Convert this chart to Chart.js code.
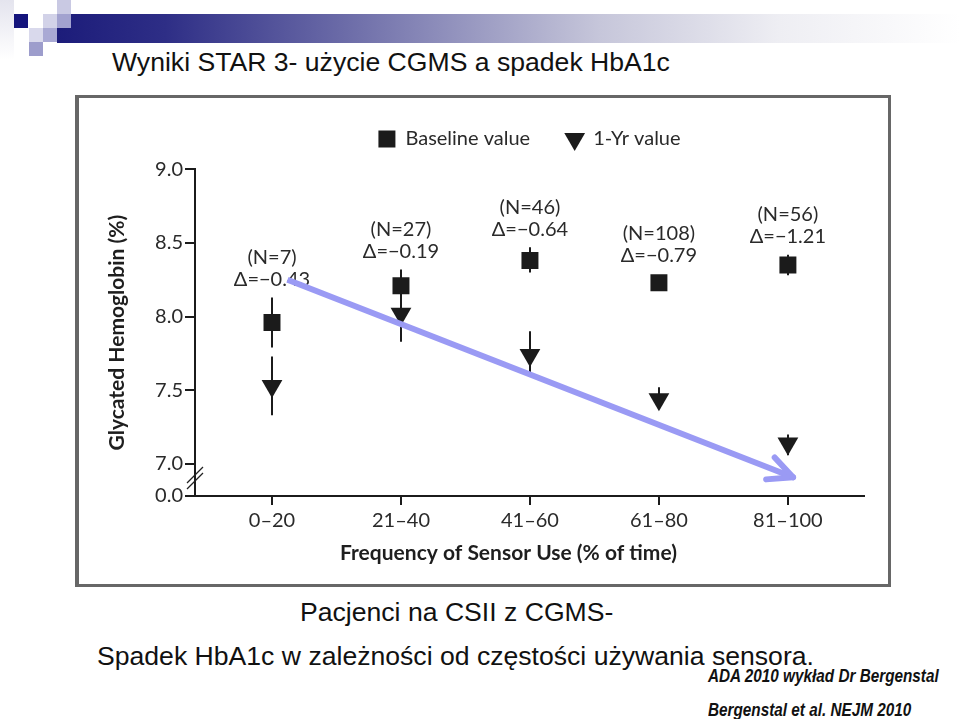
<!DOCTYPE html>
<html>
<head>
<meta charset="utf-8">
<script src="https://cdn.jsdelivr.net/npm/chart.js@4.4.1/dist/chart.umd.min.js"></script>
<style>
  html, body { margin: 0; padding: 0; background: #fff; }
  body { width: 960px; height: 719px; position: relative; overflow: hidden; font-family: "Liberation Sans", Arial, sans-serif; }
  .kw { position: absolute; width: 14px; height: 14px; }
  #pasek { position: absolute; left: 57px; top: 14px; width: 903px; height: 29px;
    background: linear-gradient(to right, #1c1c7a 0%, #2e2e86 12%, #6c6ca8 32%, #c6c6da 60%, #eeeef3 80%, #ffffff 100%); }
  .tekst { position: absolute; line-height: 1; color: #111; white-space: nowrap; }
  .zrodlo { font-weight: bold; font-style: italic; font-size: 18px; transform: scaleX(0.85); transform-origin: 0 0; }
  #ramka { position: absolute; left: 75px; top: 95px; width: 816px; height: 492px; box-sizing: border-box;
    border: 3px solid #676767; border-left-width: 4px; background: #fff; }
  #ramka canvas { display: block; }
</style>
</head>
<body>
<div class="kw" style="left:0;top:0;width:14px;height:60px;background:linear-gradient(#e4e4ee,#fff)"></div>
<div id="pasek"></div>
<div class="kw" style="left:57px;top:0;background:#c9c9e3"></div>
<div class="kw" style="left:14px;top:14px;background:#14147c"></div>
<div class="kw" style="left:43px;top:14px;background:#d2d2e8"></div>
<div class="kw" style="left:57px;top:14px;background:#a2a2cf"></div>
<div class="kw" style="left:29px;top:28px;background:#d9d9ec"></div>
<div class="kw" style="left:43px;top:28px;background:#a9a9d4"></div>
<div class="kw" style="left:29px;top:42px;background:#9d9dcc"></div>

<div class="tekst" style="left:112px;top:49px;font-size:26.6px">Wyniki STAR 3- użycie CGMS a spadek HbA1c</div>

<div id="ramka"><canvas id="wykres" width="809" height="486"></canvas></div>

<div class="tekst" style="left:300px;top:599px;font-size:26.6px">Pacjenci na CSII z CGMS-</div>
<div class="tekst" style="left:97px;top:643px;font-size:26.6px">Spadek HbA1c w zależności od częstości używania sensora.</div>
<div class="tekst zrodlo" style="left:708px;top:667px">ADA 2010 wykład Dr Bergenstal</div>
<div class="tekst zrodlo" style="left:708px;top:701px">Bergenstal et al. NEJM 2010</div>

<script>
const kategorie = ['0–20', '21–40', '41–60', '61–80', '81–100'];
const wartoscBazowa = [7.96, 8.21, 8.38, 8.23, 8.35];
const wartoscRok = [7.53, 8.02, 7.74, 7.44, 7.14];
// wąsy (przedziały) - null gdy niewidoczne
const bazowaGora = [8.13, 8.32, 8.47, null, 8.42];
const bazowaDol = [7.79, 8.10, 8.30, null, 8.28];
const rokGora = [7.73, 8.14, 7.90, 7.52, 7.20];
const rokDol = [7.33, 7.83, 7.62, 7.38, 7.06];
const liczebnosc = ['(N=7)', '(N=27)', '(N=46)', '(N=108)', '(N=56)'];
const delty = ['Δ=−0.43', 'Δ=−0.19', 'Δ=−0.64', 'Δ=−0.79', 'Δ=−1.21'];
const ticksY = [6.783, 7.0, 7.5, 8.0, 8.5, 9.0];
const etykietyY = ['0.0', '7.0', '7.5', '8.0', '8.5', '9.0'];
const strzalka = [{x: 0.12, y: 8.25}, {x: 4.04, y: 6.91}];

const czcionka = 'Lato, "DejaVu Sans", sans-serif';
const czarny = '#1b1b1b';

const punkty = arr => arr.map((v, i) => ({x: i, y: v}));

// wąsy, napisy N/delta i przerwanie osi
const dodatki = {
    id: 'dodatki',
    beforeDatasetsDraw(chart) {
        const {ctx, scales: {x, y}} = chart;
        ctx.save();
        ctx.strokeStyle = czarny;
        ctx.lineWidth = 2;
        const wasy = [[bazowaDol, bazowaGora], [rokDol, rokGora]];
        wasy.forEach(([dol, gora]) => {
            dol.forEach((d, i) => {
                if (d === null) return;
                const px = Math.round(x.getPixelForValue(i));
                ctx.beginPath();
                ctx.moveTo(px, y.getPixelForValue(d));
                ctx.lineTo(px, y.getPixelForValue(gora[i]));
                ctx.stroke();
            });
        });

        ctx.fillStyle = '#2a2a2a';
        ctx.font = '20px ' + czcionka;
        ctx.textAlign = 'center';
        ctx.textBaseline = 'middle';
        kategorie.forEach((k, i) => {
            const px = x.getPixelForValue(i);
            let gora = y.getPixelForValue(wartoscBazowa[i]) - 9;
            if (bazowaGora[i] !== null) gora = Math.min(gora, y.getPixelForValue(bazowaGora[i]));
            ctx.fillText(delty[i], px, gora - 18);
            ctx.fillText(liczebnosc[i], px, gora - 40);
        });

        // przerwanie osi Y
        const ax = chart.chartArea.left;
        const sr = (y.getPixelForValue(ticksY[0]) + y.getPixelForValue(ticksY[1])) / 2 - 2;
        ctx.lineWidth = 1.3;
        ctx.strokeStyle = '#222';
        [-3, 3].forEach(d => {
            ctx.beginPath();
            ctx.moveTo(ax - 8, sr + d + 8);
            ctx.lineTo(ax + 8, sr + d - 8);
            ctx.stroke();
        });
        ctx.restore();
    },
    afterDatasetsDraw(chart) {
        // grot strzałki
        const meta = chart.getDatasetMeta(2);
        const a = meta.data[0], b = meta.data[1];
        const kat = Math.atan2(a.y - b.y, a.x - b.x);
        const ctx = chart.ctx;
        ctx.save();
        ctx.strokeStyle = '#9a9af4';
        ctx.lineWidth = 6;
        ctx.lineCap = 'round';
        [-0.45, 0.45].forEach(d => {
            ctx.beginPath();
            ctx.moveTo(b.x, b.y);
            ctx.lineTo(b.x + 27 * Math.cos(kat + d), b.y + 27 * Math.sin(kat + d));
            ctx.stroke();
        });
        ctx.restore();
    }
};

new Chart(document.getElementById('wykres'), {
    type: 'scatter',
    data: {
        datasets: [
            {
                label: 'Baseline value',
                data: punkty(wartoscBazowa),
                pointStyle: 'rect',
                pointRadius: 12,
                pointHoverRadius: 12,
                backgroundColor: czarny,
                borderColor: czarny,
                borderWidth: 0
            },
            {
                label: '1-Yr value',
                data: punkty(wartoscRok),
                pointStyle: 'triangle',
                pointRotation: 180,
                pointRadius: 12,
                pointHoverRadius: 12,
                backgroundColor: czarny,
                borderColor: czarny,
                borderWidth: 0
            },
            {
                type: 'line',
                label: 'trend',
                data: strzalka,
                borderColor: '#9a9af4',
                borderWidth: 6,
                pointRadius: 0,
                showLine: true,
                order: -1
            }
        ]
    },
    options: {
        responsive: false,
        animation: false,
        events: [],
        layout: { padding: { top: -5, left: 0, right: 24, bottom: 0 } },
        plugins: {
            tooltip: { enabled: false },
            legend: {
                position: 'top',
                fullSize: false,
                labels: {
                    usePointStyle: true,
                    boxWidth: 17,
                    boxHeight: 17,
                    padding: 36,
                    color: '#2a2a2a',
                    font: { size: 20, family: czcionka },
                    filter: item => item.datasetIndex < 2
                }
            },
            // pusty odstęp pod legendą
            subtitle: {
                display: true,
                text: '',
                position: 'top',
                weight: 500,
                font: { size: 1 },
                padding: { top: 9, bottom: 0 }
            }
        },
        scales: {
            x: {
                type: 'linear',
                min: -0.597,
                max: 4.59,
                afterBuildTicks: s => { s.ticks = kategorie.map((k, i) => ({value: i})); },
                afterFit: s => { s.height = 88; },
                ticks: {
                    callback: v => kategorie[v],
                    autoSkip: false,
                    maxRotation: 0,
                    padding: 4,
                    color: '#2a2a2a',
                    font: { size: 20, family: czcionka }
                },
                grid: { drawOnChartArea: false, tickLength: 9, color: czarny, lineWidth: 2 },
                border: { color: czarny, width: 2 },
                title: {
                    display: true,
                    // spacje na końcu przesuwają tytuł lekko w lewo, jak w oryginale
                    text: 'Frequency of Sensor Use (% of time)\u2002\u2002\u2002\u2002',
                    color: '#1e1e1e',
                    font: { size: 21, weight: 'bold', family: czcionka },
                    padding: { top: 0, bottom: 18 }
                }
            },
            y: {
                min: ticksY[0],
                max: 9.0,
                afterBuildTicks: s => { s.ticks = ticksY.map(v => ({value: v})); },
                afterFit: s => { s.width = 116; },
                ticks: {
                    callback: (v, i) => etykietyY[i],
                    autoSkip: false,
                    padding: 2,
                    color: '#2a2a2a',
                    font: { size: 20, family: czcionka }
                },
                grid: { drawOnChartArea: false, tickLength: 10, color: czarny, lineWidth: 2 },
                border: { color: czarny, width: 2 },
                title: {
                    display: true,
                    text: 'Glycated Hemoglobin (%)',
                    color: '#1e1e1e',
                    font: { size: 21, weight: 'bold', family: czcionka },
                    padding: { top: 26, bottom: 0 }
                }
            }
        }
    },
    plugins: [dodatki]
});
</script>
</body>
</html>
